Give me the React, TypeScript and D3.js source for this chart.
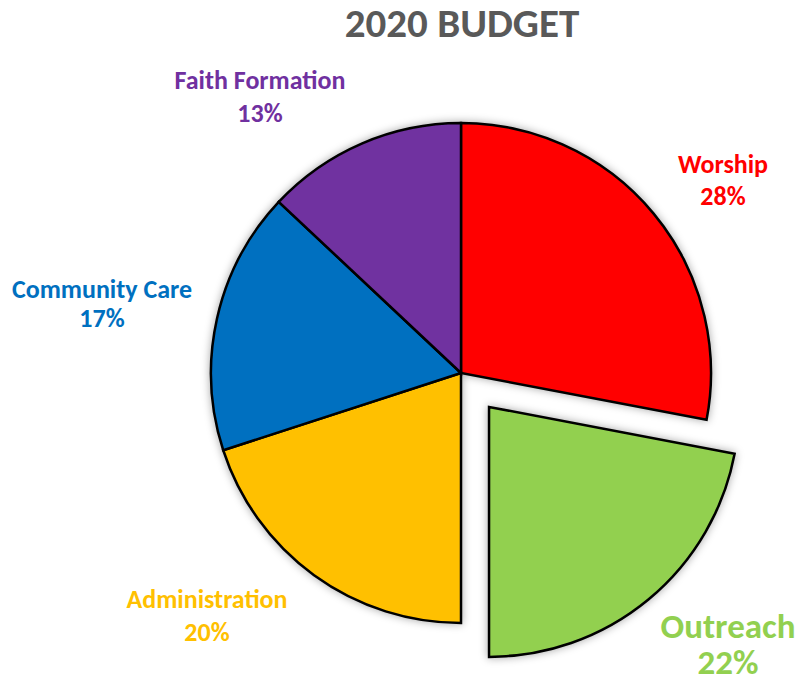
import React from "react";
import * as d3 from "d3";

const categories = ["Worship", "Outreach", "Administration", "Community Care", "Faith Formation"];
const values = [28, 22, 20, 17, 13];
const colors = ["#FF0000", "#92D050", "#FFC000", "#0070C0", "#7030A0"];
const explodedIndex = 1;

const W = 802;
const H = 683;
const cx = 461;
const cy = 373;
const R = 250;
const explodeOffset = 44;

// label placements (center x, first baseline y, line gap), font size
const labelPos = [
  { x: 723, y: 173, size: 26, gap: 32 },
  { x: 728, y: 638, size: 35, gap: 36 },
  { x: 207, y: 608, size: 26, gap: 33 },
  { x: 102, y: 298, size: 26, gap: 29 },
  { x: 260, y: 89, size: 26, gap: 33 },
];

const FONT = "Carlito, Lato, 'Open Sans', sans-serif";

export default function App() {
  const pie = d3
    .pie<number>()
    .sort(null)
    .value((d) => d);
  const arcs = pie(values);
  const arcGen = d3.arc<d3.PieArcDatum<number>>().innerRadius(0).outerRadius(R);

  return (
    <svg
      width={W}
      height={H}
      style={{ position: "absolute", left: 0, top: 0, background: "#fff" }}
    >
      <defs>
        <filter id="glow" x="-20%" y="-20%" width="140%" height="140%">
          <feDropShadow dx="0" dy="0" stdDeviation="4" floodColor="#000" floodOpacity="0.35" />
        </filter>
      </defs>
      <text
        x={462}
        y={37}
        textAnchor="middle"
        fontFamily={FONT}
        fontWeight="bold"
        fontSize={41}
        fill="#595959"
      >
        2020 BUDGET
      </text>
      <g transform={`translate(${cx},${cy})`} filter="url(#glow)">
        {arcs.map((a, i) => {
          let tx = 0;
          let ty = 0;
          if (i === explodedIndex) {
            const mid = (a.startAngle + a.endAngle) / 2;
            tx = Math.sin(mid) * explodeOffset;
            ty = -Math.cos(mid) * explodeOffset;
          }
          return (
            <path
              key={categories[i]}
              d={arcGen(a) || ""}
              transform={`translate(${tx},${ty})`}
              fill={colors[i]}
              stroke="#000"
              strokeWidth={2.5}
              strokeLinejoin="miter"
            />
          );
        })}
      </g>
      {categories.map((c, i) => {
        const p = labelPos[i];
        return (
          <text
            key={c}
            x={p.x}
            y={p.y}
            textAnchor="middle"
            fontFamily={FONT}
            fontWeight="bold"
            fontSize={p.size}
            fill={colors[i]}
          >
            <tspan x={p.x} y={p.y}>{c}</tspan>
            <tspan x={p.x} y={p.y + p.gap}>{`${values[i]}%`}</tspan>
          </text>
        );
      })}
    </svg>
  );
}
